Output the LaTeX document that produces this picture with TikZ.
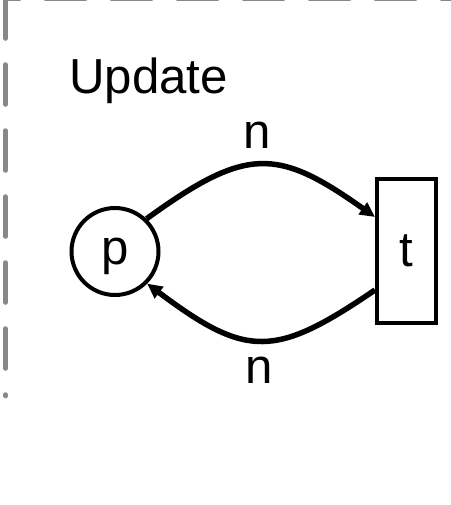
\documentclass[tikz,border=0pt]{standalone}
\usepackage{fontspec}
\setmainfont{Liberation Sans}
\usetikzlibrary{arrows.meta}
\definecolor{framegray}{RGB}{136,136,136}

\begin{document}
\begin{tikzpicture}[>={Triangle[length=0.3cm,width=0.28cm]},
  placenode/.style={draw, circle, line width=0.08cm, minimum size=1.74cm, inner sep=0pt, text depth=0pt, font=\fontsize{28}{34}\selectfont},
  transnode/.style={draw, rectangle, line width=0.08cm, minimum width=1.18cm, minimum height=2.88cm, inner sep=0pt, font=\fontsize{28}{34}\selectfont},
  arcline/.style={->, line width=0.11cm},
  arclabel/.style={inner sep=0pt, font=\fontsize{28}{34}\selectfont},
  frameline/.style={draw=framegray, line width=0.09cm, line cap=round, dash pattern=on 0.8cm off 0.52cm}]
\useasboundingbox (0,0) rectangle (9,-10.1);

\draw[frameline] (0.11,0.03) -- (0.11,-7.92);
\draw[frameline, dash phase=0.52cm] (0.11,0.03) -- (9.5,0.03);

\node[anchor=base west, inner sep=0pt, font=\fontsize{28}{34}\selectfont] (title) at (1.38,-1.86) {Update};
\node[placenode] (p) at (2.30,-5.03) {p};
\node[transnode] (t) at (8.13,-5.02) {t};

\draw[arcline] (p.46) .. controls +(2.0,1.45) and +(-1.96,1.39) .. ([yshift=0.68cm]t.west);
\draw[arcline] ([yshift=-0.78cm]t.west) .. controls +(-2.0,-1.36) and +(2.0,-1.5) .. (p.-45);

\node[arclabel] (ntop) at (5.15,-2.71) {n};
\node[arclabel] (nbot) at (5.19,-7.41) {n};
\end{tikzpicture}
\end{document}
